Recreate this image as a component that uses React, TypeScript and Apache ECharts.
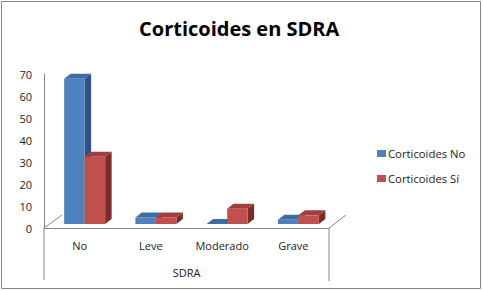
import React, { useEffect, useRef } from "react";
import * as echarts from "echarts";

const title = "Corticoides en SDRA";
const axisTitle = "SDRA";
const categories = ["No", "Leve", "Moderado", "Grave"];
const seriesNames = ["Corticoides No", "Corticoides Sí"];
const corticoidesNo = [67, 3, 0, 2];
const corticoidesSi = [31, 3, 7, 4];
const yTicks = { min: 0, max: 70, interval: 10 };

const FONT = "'Open Sans', 'Noto Sans', sans-serif";
const AXIS = "#868686";

const shade = [
  { front: "#4F81BD", top: "#3F6CA3", side: "#2F5282" },
  { front: "#C0504D", top: "#A23E3B", side: "#7B2D2B" },
];

function bar3d(which: number) {
  return (params: any, api: any) => {
    const idx = api.value(0);
    const val = api.value(1);
    const base = api.coord([idx, 0]);
    const topPt = api.coord([idx, val]);
    const offs = which === 0 ? -15.5 : 5;
    const w = 20.5;
    const dx = 6.5;
    const dy = 5;
    const x0 = base[0] + offs;
    const x1 = x0 + w;
    const yb = base[1] - 4;
    const yt = yb - (base[1] - topPt[1]) * 0.985;
    const c = shade[which];
    const children: any[] = [
      { type: "polygon", shape: { points: [[x1, yb], [x1 + dx, yb - dy], [x1 + dx, yt - dy], [x1, yt]] }, style: { fill: c.side } },
      { type: "polygon", shape: { points: [[x0, yt], [x0 + dx, yt - dy], [x1 + dx, yt - dy], [x1, yt]] }, style: { fill: c.top } },
      { type: "rect", shape: { x: x0, y: yt, width: w, height: yb - yt }, style: { fill: c.front } },
    ];
    return { type: "group", children };
  };
}

const guide = (x1: number, y1: number, x2: number, y2: number) => ({
  type: "line",
  shape: { x1, y1, x2, y2 },
  style: { stroke: AXIS, lineWidth: 1 },
  silent: true,
});

export default function App() {
  const ref = useRef<HTMLDivElement>(null);
  useEffect(() => {
    const chart = echarts.init(ref.current!, null, { renderer: "svg" });
    chart.setOption({
      animation: false,
      backgroundColor: "#fff",
      title: {
        text: title,
        left: 134,
        top: 13,
        textStyle: { fontFamily: FONT, fontSize: 20, fontWeight: "bold", color: "#000" },
      },
      grid: { left: 44, top: 74, width: 285, height: 154 },
      legend: {
        orient: "vertical",
        left: 372,
        top: 143,
        itemWidth: 9,
        itemHeight: 7,
        itemGap: 14,
        icon: "rect",
        textStyle: { fontFamily: FONT, fontSize: 11.3, color: "#1a1a1a", padding: [0, 0, 0, -3] },
        data: seriesNames,
      },
      xAxis: {
        type: "category",
        data: categories,
        name: axisTitle,
        nameLocation: "middle",
        nameGap: 39,
        nameTextStyle: { fontFamily: FONT, fontSize: 11, color: "#1a1a1a" },
        axisLine: { lineStyle: { color: AXIS } },
        axisTick: { show: false },
        axisLabel: { fontFamily: FONT, fontSize: 11, color: "#1a1a1a", margin: 12 },
      },
      yAxis: {
        type: "value",
        ...yTicks,
        axisLine: { show: true, lineStyle: { color: AXIS } },
        axisTick: { show: false },
        splitLine: { show: false },
        axisLabel: { fontFamily: FONT, fontSize: 11, color: "#1a1a1a", margin: 12 },
      },
      series: [
        { name: seriesNames[0], type: "custom", renderItem: bar3d(0), clip: false, itemStyle: { color: shade[0].front }, encode: { x: 0, y: 1 }, data: corticoidesNo.map((v, i) => [i, v]) },
        { name: seriesNames[1], type: "custom", renderItem: bar3d(1), clip: false, itemStyle: { color: shade[1].front }, encode: { x: 0, y: 1 }, data: corticoidesSi.map((v, i) => [i, v]) },
      ],
      graphic: [
        { type: "rect", shape: { x: 1.5, y: 1.5, width: 479, height: 287 }, style: { fill: "none", stroke: "#868686", lineWidth: 1 }, silent: true },
        guide(44, 228, 62, 215),
        guide(329, 228, 346, 215),
        guide(44, 228, 44, 280),
        guide(329, 228, 329, 281),
      ],
    });
    return () => chart.dispose();
  }, []);
  return <div ref={ref} style={{ position: "fixed", left: 0, top: 0, width: 483, height: 291 }} />;
}
